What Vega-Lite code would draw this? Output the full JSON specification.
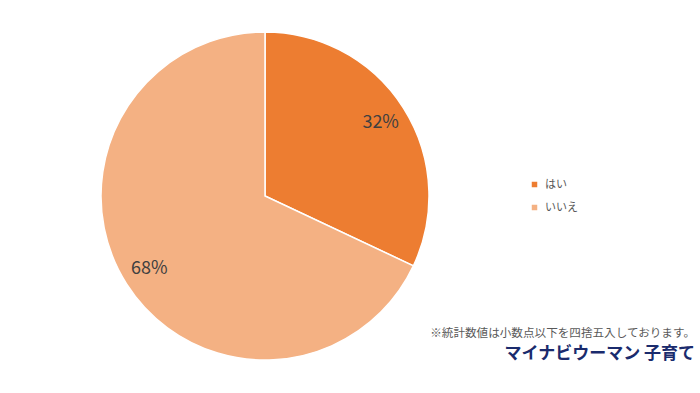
{
  "$schema": "https://vega.github.io/schema/vega-lite/v6.json",
  "width": 530,
  "height": 328,
  "autosize": {"type": "none"},
  "padding": {"left": 0, "top": 32, "right": 170, "bottom": 33},
  "background": "white",
  "config": {"view": {"stroke": null}, "font": "Noto Sans CJK JP"},
  "title": {
    "text": "※統計数値は小数点以下を四捨五入しております。",
    "subtitle": "マイナビウーマン 子育て",
    "orient": "bottom",
    "anchor": "end",
    "frame": "group",
    "offset": 0,
    "dx": 165,
    "dy": -35,
    "fontSize": 11.6,
    "fontWeight": "normal",
    "color": "#595959",
    "subtitleFontSize": 17,
    "subtitleFontWeight": "bold",
    "subtitleColor": "#1a2b6d",
    "subtitlePadding": 6
  },
  "data": {
    "values": [
      {"answer": "はい", "value": 32, "label": "32%"},
      {"answer": "いいえ", "value": 68, "label": "68%"}
    ]
  },
  "encoding": {
    "theta": {"field": "value", "type": "quantitative", "stack": true},
    "order": {"field": "value", "type": "quantitative", "sort": "ascending"},
    "color": {
      "field": "answer",
      "type": "nominal",
      "sort": ["はい", "いいえ"],
      "scale": {"domain": ["はい", "いいえ"], "range": ["#ED7D31", "#F4B183"]},
      "legend": {
        "title": null,
        "orient": "none",
        "legendX": 529,
        "legendY": 147,
        "symbolType": "square",
        "symbolSize": 49,
        "labelFontSize": 11,
        "labelColor": "#595959",
        "rowPadding": 10,
        "labelOffset": 5
      }
    }
  },
  "layer": [
    {
      "mark": {"type": "arc", "stroke": "white", "strokeWidth": 1.5}
    },
    {
      "mark": {"type": "text", "radius": 137, "fontSize": 18, "color": "#404040"},
      "encoding": {
        "text": {"field": "label", "type": "nominal"},
        "color": {"value": "#404040"}
      }
    }
  ]
}
